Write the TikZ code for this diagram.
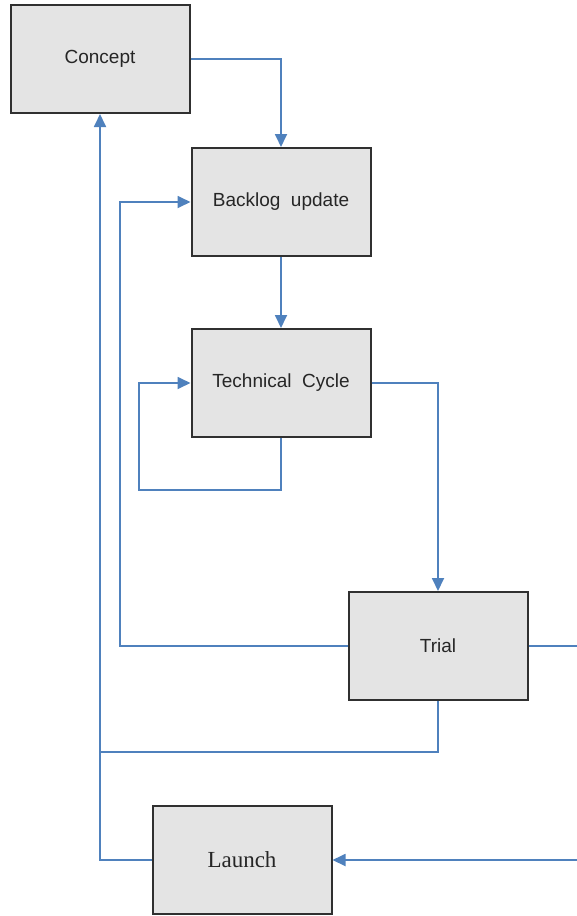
\documentclass[tikz,border=0pt]{standalone}
\usepackage{fontspec}
\setmainfont{Liberation Serif}
\setsansfont{Liberation Sans}
\usepackage{tikz}
\usetikzlibrary{arrows.meta}
\definecolor{flow}{HTML}{4F81BD}
\definecolor{boxfill}{HTML}{E4E4E4}
\definecolor{boxline}{HTML}{303030}

\tikzset{
  stage/.style={draw=boxline, fill=boxfill, line width=2pt, text=black!85,
                minimum width=179pt, minimum height=108pt, inner sep=0pt,
                font=\sffamily\fontsize{19}{22}\selectfont},
  link/.style={draw=flow, line width=1.8pt},
  arrow/.style={link, -{Triangle[length=13pt, width=12pt]}}
}

\begin{document}
\begin{tikzpicture}[x=1pt, y=-1pt]
  \useasboundingbox (0,0) rectangle (577,916);

  \node[stage] (concept)   at (100, 59)  {Concept};
  \node[stage] (backlog)   at (281, 202) {Backlog\ \ update};
  \node[stage] (techcycle) at (281, 383) {Technical\ \ Cycle};
  \node[stage] (trial)     at (438, 646) {Trial};
  \node[stage, font=\rmfamily\fontsize{23}{26}\selectfont] (launch) at (242, 860) {Launch};

  % main chain
  \draw[arrow] (concept.east) -| (backlog.north);
  \draw[arrow] (backlog) -- (techcycle);
  \draw[arrow] (techcycle.east) -| (trial.north);

  % feedback loops
  \draw[arrow] (techcycle.south) |- (139,490) |- (techcycle.west);
  \draw[arrow] (trial.west) -| (120,400) |- (backlog.west);
  \draw[link]  (trial.south) |- (100,752);
  \draw[arrow] (launch.west) -| (concept.south);

  % off the right edge
  \draw[arrow] (trial.east) -| (584,750) |- (launch.east);
\end{tikzpicture}
\end{document}
